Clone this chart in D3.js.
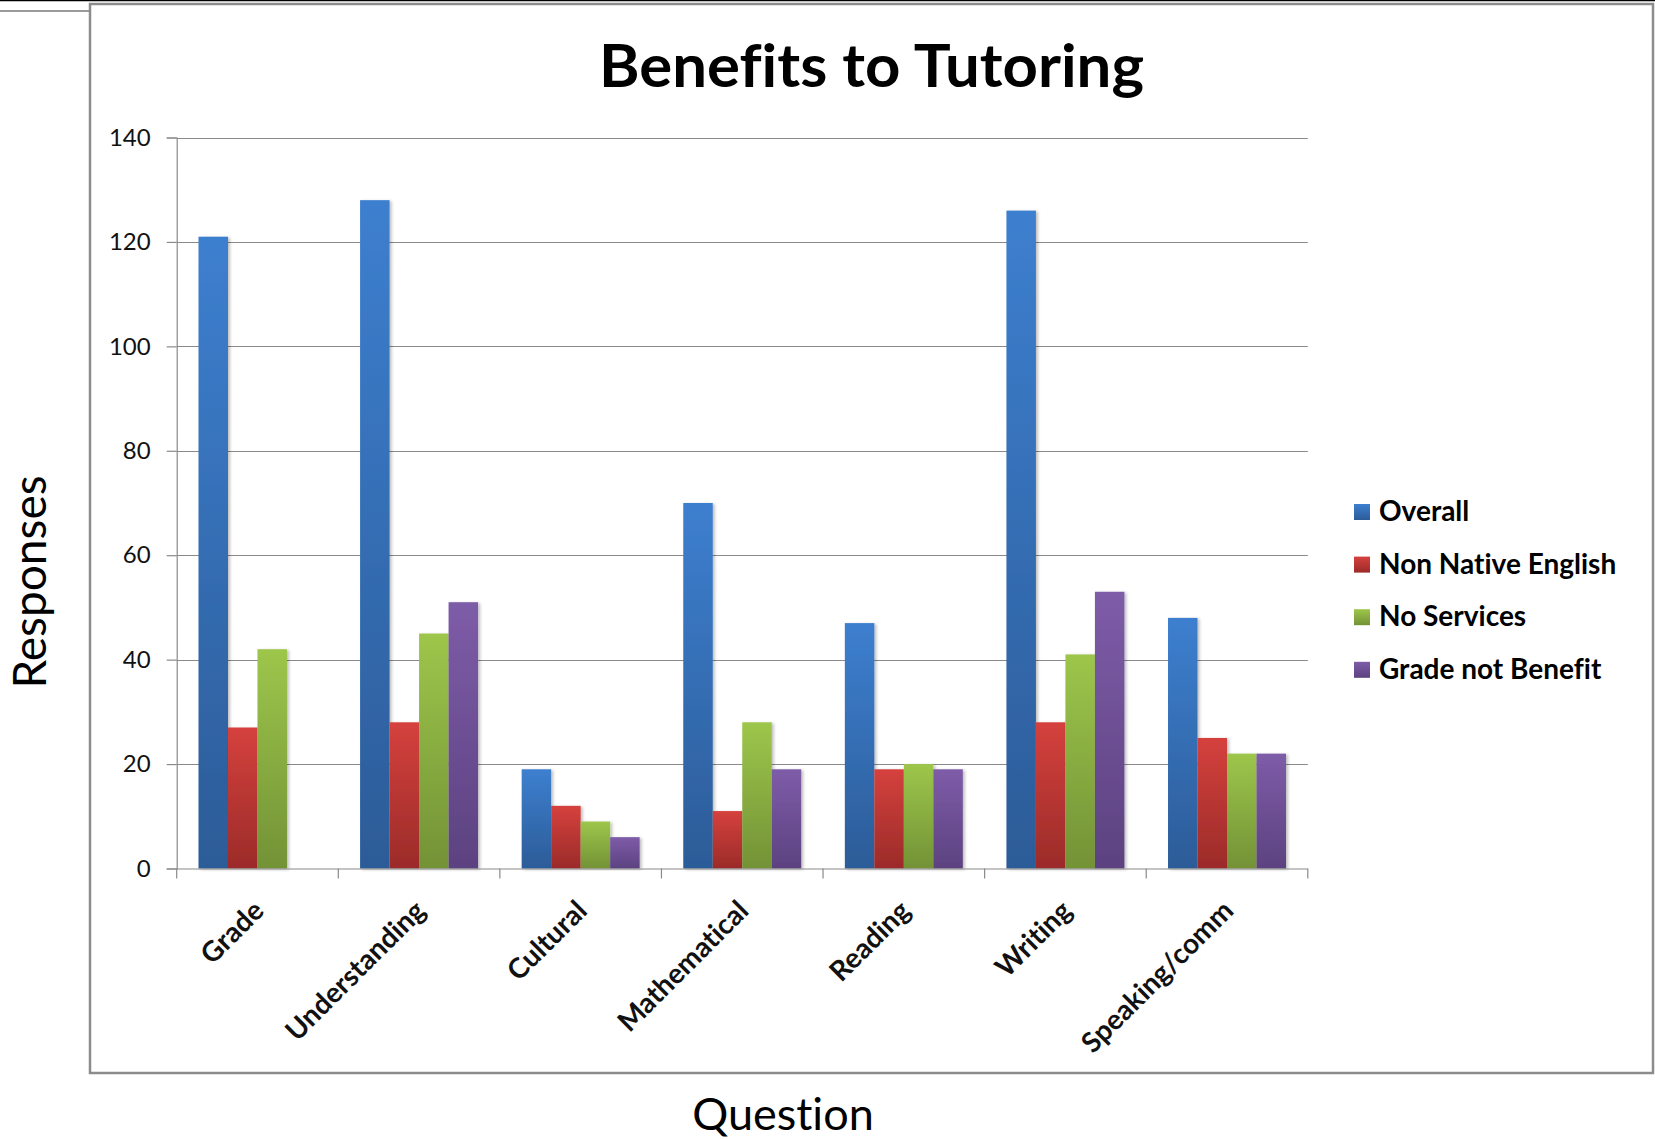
<!DOCTYPE html>
<html>
<head>
<meta charset="utf-8">
<script src="https://cdn.jsdelivr.net/npm/d3@7"></script>
<style>
html,body{margin:0;padding:0;background:#fff;}
svg{display:block;}
text{font-family:Lato,"Open Sans",sans-serif;font-variant-ligatures:none;font-feature-settings:"liga" 0,"clig" 0,"dlig" 0;}
</style>
</head>
<body>
<svg id="chart" width="1655" height="1139"></svg>
<script>
const categories = ["Grade","Understanding","Cultural","Mathematical","Reading","Writing","Speaking/comm"];
const seriesNames = ["Overall","Non Native English","No Services","Grade not Benefit"];
const overall = [121,128,19,70,47,126,48];
const nonNative = [27,28,12,11,19,28,25];
const noServices = [42,45,9,28,20,41,22];
const gradeNotBenefit = [0,51,6,19,19,53,22];
const yTicks = [0,20,40,60,80,100,120,140];
const topColors = ["#3D7FCF","#D5413D","#9DC64B","#7E5CA8"];
const bottomColors = ["#2C5C98","#9B2B29","#739236","#5C4280"];

const seriesValues = [overall, nonNative, noServices, gradeNotBenefit];

const svg = d3.select("#chart");
const W = 1655, H = 1139;
const plot = {left:176.7, right:1307.8, top:137.5, bottom:868.5};

const defs = svg.append("defs");
seriesNames.forEach((s,i)=>{
  const g = defs.append("linearGradient").attr("id","grad"+i)
    .attr("x1",0).attr("y1",0).attr("x2",0).attr("y2",1);
  g.append("stop").attr("offset","0%").attr("stop-color",topColors[i]);
  g.append("stop").attr("offset","100%").attr("stop-color",bottomColors[i]);
});
const f = defs.append("filter").attr("id","shadow").attr("x","-20%").attr("y","-5%").attr("width","150%").attr("height","110%");
f.append("feDropShadow").attr("dx",2).attr("dy",1).attr("stdDeviation",1.5).attr("flood-color","#000").attr("flood-opacity",0.25);

// page decorations: top black line, short grey line, chart frame
svg.append("line").attr("x1",0).attr("x2",W).attr("y1",0.5).attr("y2",0.5).attr("stroke","#000").attr("stroke-width",1.5);
svg.append("line").attr("x1",0).attr("x2",90).attr("y1",11).attr("y2",11).attr("stroke","#9a9a9a").attr("stroke-width",2);
svg.append("rect").attr("x",90).attr("y",4).attr("width",1563).attr("height",1069)
  .attr("fill","#fff").attr("stroke","#8c8c8c").attr("stroke-width",2.5);

const y = d3.scaleLinear().domain([0,140]).range([plot.bottom, plot.top]);
const x = d3.scaleBand().domain(categories).range([plot.left, plot.right]).padding(0);
const bw = x.bandwidth();
const xs = d3.scaleBand().domain(seriesNames).range([21.8, bw-21.8]).padding(0);

// gridlines
svg.append("g").selectAll("line").data(yTicks.filter(d=>d>0)).join("line")
  .attr("x1",plot.left).attr("x2",plot.right)
  .attr("y1",d=>Math.round(y(d))+0.5).attr("y2",d=>Math.round(y(d))+0.5)
  .attr("stroke","#8a8a8a").attr("stroke-width",1.2);

// y axis
const yAxis = d3.axisLeft(y).tickValues(yTicks).tickSize(10).tickPadding(16);
const gy = svg.append("g").attr("transform",`translate(${plot.left},0)`).call(yAxis);
gy.select(".domain").attr("stroke","#8a8a8a").attr("stroke-width",1.2);
gy.selectAll(".tick line").attr("stroke","#8a8a8a").attr("stroke-width",1.2);
gy.selectAll(".tick text").attr("font-family","Lato").attr("font-size",24).attr("fill","#111");

// bars
const groups = svg.append("g").selectAll("g").data(categories).join("g")
  .attr("transform",d=>`translate(${x(d)},0)`);
groups.selectAll("rect").data((c,ci)=>seriesNames.map((s,si)=>({s,si,v:seriesValues[si][ci]})))
  .join("rect")
  .filter(d=>d.v>0)
  .attr("x",d=>xs(d.s)).attr("width",xs.bandwidth())
  .attr("y",d=>y(d.v)).attr("height",d=>y(0)-y(d.v))
  .attr("fill",d=>`url(#grad${d.si})`)
  .attr("filter","url(#shadow)");

// x axis
const xAxisG = svg.append("g").attr("transform",`translate(0,${plot.bottom})`);
xAxisG.append("line").attr("x1",plot.left).attr("x2",plot.right).attr("y1",0.5).attr("y2",0.5)
  .attr("stroke","#8a8a8a").attr("stroke-width",1.2);
const boundaries = categories.map(c=>x(c)).concat([plot.right]);
xAxisG.selectAll("line.tk").data(boundaries).join("line").attr("class","tk")
  .attr("x1",d=>d).attr("x2",d=>d).attr("y1",0).attr("y2",10)
  .attr("stroke","#8a8a8a").attr("stroke-width",1.2);
xAxisG.selectAll("text").data(categories).join("text")
  .attr("transform",d=>`translate(${x(d)+bw/2+8},${44}) rotate(-45)`)
  .attr("text-anchor","end")
  .attr("font-family","Lato").attr("font-weight","bold").attr("font-size",28).attr("fill","#111")
  .text(d=>d);

// title
svg.append("text").attr("x",871.5).attr("y",86.5).attr("text-anchor","middle")
  .attr("font-family","Lato").attr("font-weight","bold").attr("font-size",60).attr("fill","#000")
  .attr("textLength",545).attr("lengthAdjust","spacingAndGlyphs")
  .text("Benefits to Tutoring");

// axis titles
svg.append("text").attr("transform","translate(46,582) rotate(-90)").attr("text-anchor","middle")
  .attr("font-family","Lato").attr("font-size",46).attr("fill","#000").text("Responses");
svg.append("text").attr("x",783).attr("y",1130).attr("text-anchor","middle")
  .attr("font-family","Lato").attr("font-size",45).attr("fill","#000").text("Question");

// legend
const lg = svg.append("g").selectAll("g").data(seriesNames).join("g")
  .attr("transform",(d,i)=>`translate(1354,${504+i*52.6})`);
lg.append("rect").attr("width",16).attr("height",16).attr("fill",(d,i)=>`url(#grad${i})`);
lg.append("text").attr("x",25).attr("y",17)
  .attr("font-family","Lato").attr("font-weight","bold").attr("font-size",28).attr("fill","#000")
  .text(d=>d);
</script>
</body>
</html>
